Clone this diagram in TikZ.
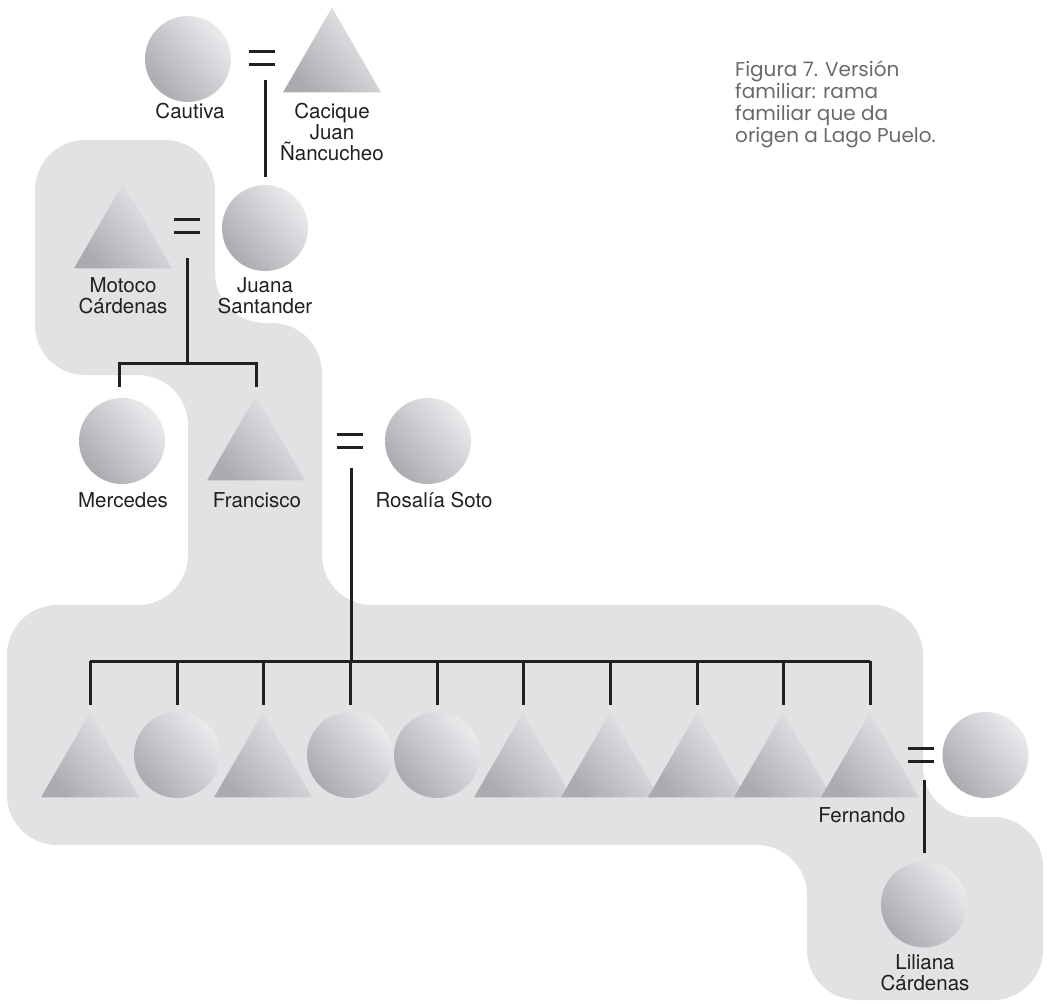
\documentclass[tikz,border=0pt]{standalone}
\usepackage{fontspec}
\setmainfont{TeX Gyre Heros}
\newfontfamily\capfont{Poppins}
\usetikzlibrary{shapes.geometric}
\definecolor{blob}{RGB}{225,226,228}
\definecolor{shLight}{RGB}{234,235,237}
\definecolor{shDark}{RGB}{170,171,175}
\definecolor{ink}{RGB}{35,31,32}
\definecolor{capgray}{RGB}{105,106,110}
\begin{document}
\begin{tikzpicture}[x=1pt,y=-1pt,
  person/.style={shade, top color=shLight, bottom color=shDark, shading angle=-50,
    draw=none, inner sep=0pt, outer sep=0pt},
  female/.style={person, circle, minimum size=86pt},
  male/.style={person, regular polygon, regular polygon sides=3, minimum size=113pt},
  personlabel/.style={font=\fontsize{20.5}{21}\selectfont, text=ink, align=center,
    inner sep=0pt, anchor=base},
  kin/.style={draw=ink, line width=3pt},
  marriage/.pic={\draw[kin] (-13,-6.5) -- (13,-6.5) (-13,6.5) -- (13,6.5);}
]
\useasboundingbox (0,0) rectangle (1047,1004);

% shaded family branch behind the tree
\fill[blob, rounded corners=50pt]
  (35,140) -- (215,140) -- (215,323) -- (322,323) -- (322,605) -- (923,605)
  -- (923,817) -- (1043,817) -- (1043,1000) -- (807,1000) -- (807,845)
  -- (7,845) -- (7,605) -- (188,605) -- (188,375) -- (35,375) -- cycle;

% first generation (labels are placed by the baseline of their last line)
\node[female] (cautiva) at (188,59) {};
\node[male] (cacique) at (332,64) {};
\pic at (262,57.5) {marriage};
\node[personlabel] (lcautiva) at (190,118) {Cautiva};
\node[personlabel] (lcacique) at (332,160) {Cacique\\Juan\\Ñancucheo};
\coordinate (d1top) at (265,80);
\coordinate (d1bot) at (265,177);
\draw[kin] (d1top) -- (d1bot);

% second generation
\node[male] (motoco) at (123,240) {};
\node[female] (juana) at (265,228) {};
\pic at (187,226) {marriage};
\node[personlabel] (lmotoco) at (123,313) {Motoco\\Cárdenas};
\node[personlabel] (ljuana) at (265,313) {Juana\\Santander};
\coordinate (d2top) at (187,258);
\coordinate (d2bar) at (187,363);
\coordinate (d2l) at (119,387);
\coordinate (d2r) at (256,387);
\draw[kin] (d2top) -- (d2bar);
\draw[kin] (d2l) -- (d2l |- d2bar) -- (d2r |- d2bar) -- (d2r);

% third generation
\node[female] (mercedes) at (122,441) {};
\node[male] (francisco) at (256,452) {};
\node[female] (rosalia) at (428,441) {};
\pic at (350,441) {marriage};
\node[personlabel] (lmercedes) at (123,507) {Mercedes};
\node[personlabel] (lfrancisco) at (257,507) {Francisco};
\node[personlabel] (lrosalia) at (434,507) {Rosalía Soto};
\coordinate (d3top) at (351,468);
\coordinate (d3bar) at (351,661);
\draw[kin] (d3top) -- (d3bar);

% fourth generation
\coordinate (barL) at (90,661);
\coordinate (barR) at (870,661);
\draw[kin] (barL) -- (barR);
\foreach \x in {90,177,263,350,437,523,610,697,783,870}
  \draw[kin] (\x,661) -- (\x,705);
\node[male]   (c1)  at (90,769) {};
\node[female] (c2)  at (177,755) {};
\node[male]   (c3)  at (263,769) {};
\node[female] (c4)  at (350,755) {};
\node[female] (c5)  at (437,755) {};
\node[male]   (c6)  at (523,769) {};
\node[male]   (c7)  at (610,769) {};
\node[male]   (c8)  at (697,769) {};
\node[male]   (c9)  at (783,769) {};
\node[male]   (fernando) at (870,769) {};
\node[female] (esposa) at (985.5,755) {};
\pic at (921,754.5) {marriage};
\node[personlabel] (lfernando) at (862,822) {Fernando};
\coordinate (d4top) at (924,780);
\coordinate (d4bot) at (924,853);
\draw[kin] (d4top) -- (d4bot);

% fifth generation
\node[female] (liliana) at (924,904.5) {};
\node[personlabel] (lliliana) at (925,990) {Liliana\\Cárdenas};

% caption
\node[font=\capfont\fontsize{20}{22}\selectfont, text=capgray, align=left,
  anchor=base west, inner sep=0pt] (caption) at (735,142)
  {Figura 7. Versión\\familiar: rama\\familiar que da\\origen a Lago Puelo.};
\end{tikzpicture}
\end{document}
